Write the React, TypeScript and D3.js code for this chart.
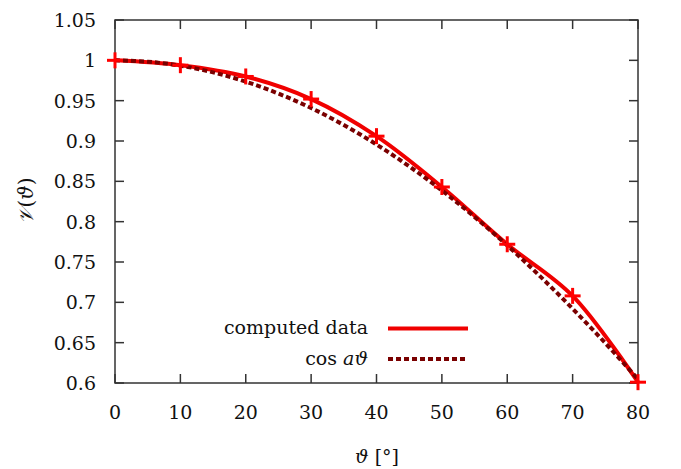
import React from "react";
import * as d3 from "d3";

const xTicks = [0, 10, 20, 30, 40, 50, 60, 70, 80];
const yTicks = [0.6, 0.65, 0.7, 0.75, 0.8, 0.85, 0.9, 0.95, 1, 1.05];
const yTickLabels = ["0.6", "0.65", "0.7", "0.75", "0.8", "0.85", "0.9", "0.95", "1", "1.05"];

// computed data (markers every 10°)
const dataTheta = [0, 10, 20, 30, 40, 50, 60, 70, 80];
const dataV = [1.0, 0.994, 0.98, 0.952, 0.906, 0.843, 0.772, 0.708, 0.601];

// cos(a·θ) curve samples
const cosTheta = [0, 5, 10, 15, 20, 25, 30, 35, 40, 45, 50, 55, 60, 65, 70, 75, 80];
const cosV = [1.0, 0.9983, 0.9934, 0.9851, 0.9736, 0.9588, 0.9409, 0.9198, 0.8957, 0.8686, 0.8387, 0.8059, 0.7705, 0.7325, 0.6921, 0.6495, 0.6046];

const W = 681;
const H = 469;
const M = { left: 115, right: 638, top: 20, bottom: 383 };
const FONT = "DejaVu Serif, serif";
const AX = "#333";
const FS = 19;

export default function App() {
  const x = d3.scaleLinear().domain([0, 80]).range([M.left, M.right]);
  const y = d3.scaleLinear().domain([0.6, 1.05]).range([M.bottom, M.top]);

  const dataPts: [number, number][] = dataTheta.map((t, i) => [t, dataV[i]]);
  const cosPts: [number, number][] = cosTheta.map((t, i) => [t, cosV[i]]);

  const line = d3
    .line<[number, number]>()
    .x((d) => x(d[0]))
    .y((d) => y(d[1]))
    .curve(d3.curveCatmullRom.alpha(0.5));

  const tickLen = 9;
  const ts = { fontFamily: FONT, fontSize: FS, fill: "#111" } as React.CSSProperties;

  return (
    <svg
      width={W}
      height={H}
      style={{ position: "absolute", left: 0, top: 0, background: "#fff" }}
    >
      {/* frame */}
      <rect
        x={M.left}
        y={M.top}
        width={M.right - M.left}
        height={M.bottom - M.top}
        fill="none"
        stroke={AX}
        strokeWidth={1.5}
      />
      {/* x ticks */}
      {xTicks.map((t) => (
        <g key={"x" + t}>
          <line x1={x(t)} x2={x(t)} y1={M.bottom} y2={M.bottom - tickLen} stroke={AX} strokeWidth={1.5} />
          <line x1={x(t)} x2={x(t)} y1={M.top} y2={M.top + tickLen} stroke={AX} strokeWidth={1.5} />
          <text x={x(t)} y={419} textAnchor="middle" style={ts}>
            {t}
          </text>
        </g>
      ))}
      {/* y ticks */}
      {yTicks.map((t, i) => (
        <g key={"y" + t}>
          <line x1={M.left} x2={M.left + tickLen} y1={y(t)} y2={y(t)} stroke={AX} strokeWidth={1.5} />
          <line x1={M.right} x2={M.right - tickLen} y1={y(t)} y2={y(t)} stroke={AX} strokeWidth={1.5} />
          <text x={96} y={y(t) + 7} textAnchor="end" style={ts}>
            {yTickLabels[i]}
          </text>
        </g>
      ))}

      {/* axis labels */}
      <text transform={`translate(33,201) rotate(-90)`} textAnchor="middle" style={{ ...ts, fontSize: 20 }}>
        <tspan fontStyle="italic">𝒱</tspan>(<tspan fontStyle="italic">ϑ</tspan>)
      </text>
      <text x={377} y={463} textAnchor="middle" style={ts}>
        <tspan fontStyle="italic">ϑ</tspan> [°]
      </text>

      {/* curves */}
      <path d={line(dataPts) || ""} fill="none" stroke="#f00000" strokeWidth={4} />
      <path
        d={line(cosPts) || ""}
        fill="none"
        stroke="#7a0000"
        strokeWidth={4}
        strokeDasharray="5,3"
      />
      {/* markers */}
      {dataPts.map((d, i) => (
        <g key={"m" + i} stroke="#ff0000" strokeWidth={3}>
          <line x1={x(d[0]) - 8} x2={x(d[0]) + 8} y1={y(d[1])} y2={y(d[1])} />
          <line x1={x(d[0])} x2={x(d[0])} y1={y(d[1]) - 8} y2={y(d[1]) + 8} />
        </g>
      ))}

      {/* legend */}
      <text x={368} y={334} textAnchor="end" style={ts}>
        computed data
      </text>
      <line x1={388} x2={468} y1={328.5} y2={328.5} stroke="#f00000" strokeWidth={4} />
      <text x={368} y={365} textAnchor="end" style={ts}>
        cos <tspan fontStyle="italic">aϑ</tspan>
      </text>
      <line
        x1={388}
        x2={468}
        y1={359}
        y2={359}
        stroke="#7a0000"
        strokeWidth={4}
        strokeDasharray="5,3"
      />
    </svg>
  );
}
